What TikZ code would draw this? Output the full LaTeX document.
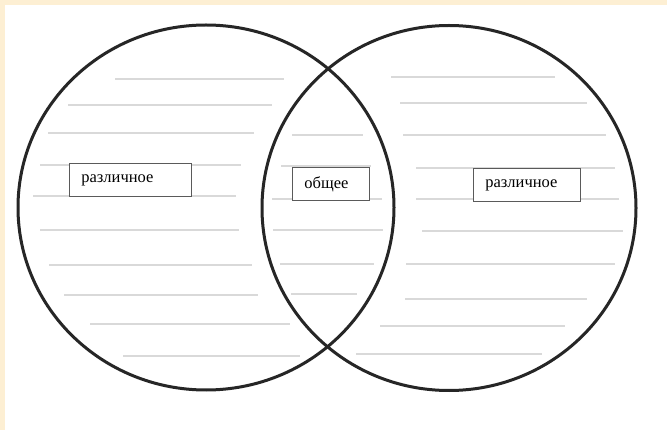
\documentclass[tikz,border=0pt]{standalone}
\usepackage{fontspec}
\setmainfont{Liberation Serif}
\definecolor{peach}{HTML}{FDEFD3}
\definecolor{rule}{HTML}{D9D9D9}
\definecolor{boxline}{HTML}{5A5A5A}
\begin{document}
\begin{tikzpicture}[x=1pt,y=-1pt,
  guide/.style={draw=rule,line width=2pt},
  ring/.style={draw=black!85,line width=3pt},
  label/.style={draw=boxline,line width=0.8pt,fill=white,font=\fontsize{16.5}{18}\selectfont,
    inner xsep=12pt,inner ysep=0pt,align=left,minimum height=33pt,anchor=north west}
]
\useasboundingbox (0,0) rectangle (667,430);
\fill[white] (0,0) rectangle (667,430);
\fill[peach] (0,0) rectangle (667,5);
\fill[peach] (0,0) rectangle (5,430);
% left lines
\foreach \y/\a/\b in {79/115/284,105/68/272,133/48/254,165/40/241,196/33/236,230/40/239,265/49/252,295/64/258,324/90/290,356/123/300}
  {\draw[guide] (\a,\y) -- (\b,\y);}
% middle lines
\foreach \y/\a/\b in {135/292/363,166/281/371,199/272/382,230/273/383,264/280/374,294/291/357}
  {\draw[guide] (\a,\y) -- (\b,\y);}
% right lines
\foreach \y/\a/\b in {77/391/555,103/400/587,135/403/606,168/416/615,199/416/619,231/422/623,264/406/615,299/405/587,326/380/565,354/356/542}
  {\draw[guide] (\a,\y) -- (\b,\y);}
% circles
\draw[ring] (206,207.5) ellipse [x radius=188, y radius=182.5];
\draw[ring] (449,208) ellipse [x radius=187, y radius=182.5];
% boxes
\node[label,text width=98pt] (left) at (69,163) {различное};
\node[label,text width=53pt] (mid) at (292,167) {общее};
\node[label,text width=83pt] (right) at (473,168.5) {различное};
\end{tikzpicture}
\end{document}
